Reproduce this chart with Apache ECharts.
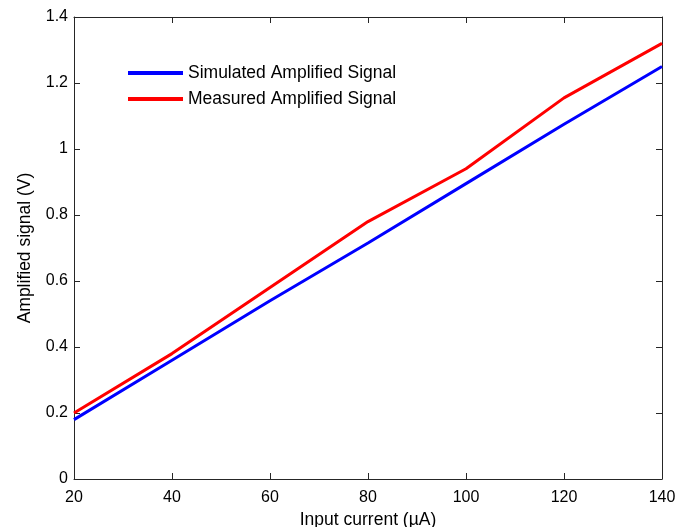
<!DOCTYPE html>
<html>
<head>
<meta charset="utf-8">
<script src="https://cdn.jsdelivr.net/npm/echarts@6/dist/echarts.min.js"></script>
<style>
html,body{margin:0;padding:0;background:#fff;}
#c{width:688px;height:527px;}
</style>
</head>
<body>
<div id="c"></div>
<script>
const xValues = [20, 40, 60, 80, 100, 120, 140];
const simulated = [0.18, 0.36, 0.54, 0.715, 0.895, 1.075, 1.25];
const measured = [0.20, 0.38, 0.58, 0.78, 0.94, 1.155, 1.32];
const seriesNames = ['Simulated Amplified Signal', 'Measured Amplified Signal'];
const xName = 'Input current (\u00b5A)';
const yName = 'Amplified signal (V)';

const font = 'Liberation Sans, Arial, sans-serif';
const axisColor = '#262626';
const chart = echarts.init(document.getElementById('c'), null, {renderer: 'canvas'});

const pairs = arr => xValues.map((x, i) => [x, arr[i]]);

const baseX = {
  type: 'value', min: 20, max: 140, interval: 20,
  axisLine: {show: true, onZero: false, lineStyle: {color: axisColor, width: 1}},
  axisTick: {show: true, inside: true, length: 6, lineStyle: {color: axisColor}},
  splitLine: {show: false}
};
const baseY = {
  type: 'value', min: 0, max: 1.4, interval: 0.2,
  axisLine: {show: true, onZero: false, lineStyle: {color: axisColor, width: 1}},
  axisTick: {show: true, inside: true, length: 6, lineStyle: {color: axisColor}},
  splitLine: {show: false}
};

chart.setOption({
  animation: false,
  backgroundColor: '#fff',
  grid: {left: 74, right: 26, top: 17, bottom: 48, containLabel: false, outerBoundsMode: 'none'},
  legend: {
    orient: 'vertical', left: 123, top: 59, itemGap: 8,
    icon: 'rect', itemWidth: 55, itemHeight: 4,
    textStyle: {fontFamily: font, fontSize: 17.5, color: '#000'},
    data: seriesNames
  },
  xAxis: [
    Object.assign({}, baseX, {
      position: 'bottom',
      axisLabel: {fontFamily: font, fontSize: 16, color: '#000', margin: 11,
        formatter: v => String(v)},
      name: xName, nameLocation: 'middle', nameGap: 29,
      nameTextStyle: {fontFamily: font, fontSize: 17.5, color: '#000'}
    }),
    Object.assign({}, baseX, {position: 'top', axisLabel: {show: false}})
  ],
  yAxis: [
    Object.assign({}, baseY, {
      position: 'left',
      axisLabel: {fontFamily: font, fontSize: 16, color: '#000', margin: 6,
        formatter: v => String(Math.round(v * 10) / 10)},
      name: yName, nameLocation: 'middle', nameGap: 40,
      nameTextStyle: {fontFamily: font, fontSize: 17.5, color: '#000'}
    }),
    Object.assign({}, baseY, {position: 'right', axisLabel: {show: false}})
  ],
  series: [
    {name: seriesNames[0], type: 'line', data: pairs(simulated), showSymbol: false,
     symbol: 'none', color: '#0000ff', lineStyle: {width: 3, color: '#0000ff'}},
    {name: seriesNames[1], type: 'line', data: pairs(measured), showSymbol: false,
     symbol: 'none', color: '#ff0000', lineStyle: {width: 3, color: '#ff0000'}}
  ]
});
</script>
</body>
</html>
